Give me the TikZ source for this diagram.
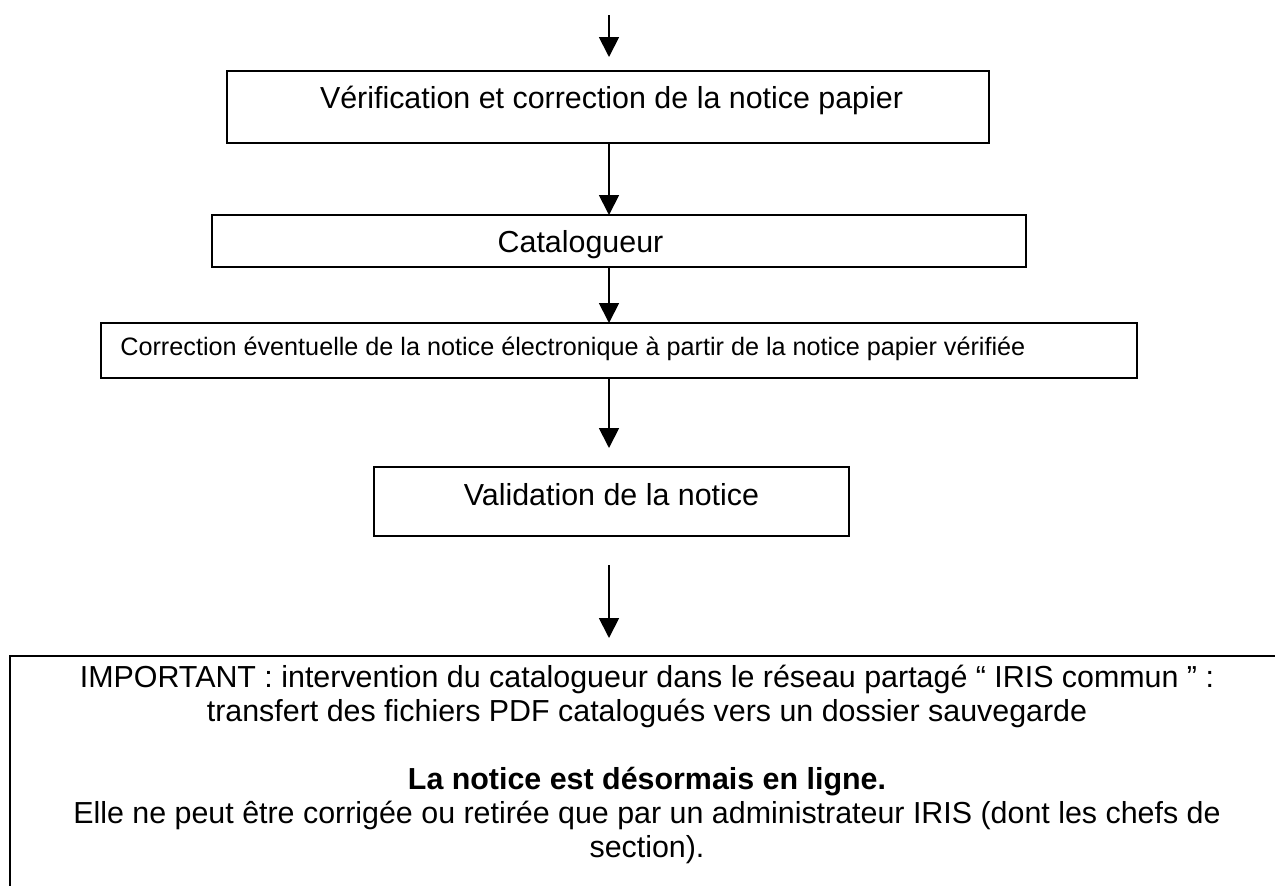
\documentclass[tikz,border=0pt]{standalone}
\usepackage{fontspec}
\setmainfont{Liberation Sans}
\usetikzlibrary{arrows.meta}
\begin{document}
\begin{tikzpicture}[x=0.5pt,y=-0.5pt,
  box/.style={draw, line width=1pt, inner sep=0pt, outer sep=0pt},
  lbl/.style={font=\fontsize{15.2pt}{17pt}\selectfont, inner sep=0pt},
  lblsmall/.style={font=\fontsize{12.6pt}{14pt}\selectfont, inner sep=0pt},
  arr/.style={line width=0.9pt, -{Triangle[width=10pt,length=10pt]}}]
\useasboundingbox (0,0) rectangle (1275,885);
\clip (0,0) rectangle (1275,885);
\fill[white] (0,0) rectangle (1275,885);
% top free arrow
\coordinate (top) at (609,15);
% boxes
\node[box, minimum width=381pt, minimum height=36pt] (b1) at (608,107) {};
\node[lbl, anchor=base] (t1) at (611.5,108) {Vérification et correction de la notice papier};
\node[box, minimum width=407pt, minimum height=26pt] (b2) at (619,241) {};
\node[lbl, anchor=base] (t2) at (580.5,252) {Catalogueur};
\node[box, minimum width=518pt, minimum height=27.5pt] (b3) at (619,350.5) {};
\node[lblsmall, anchor=base west] (t3) at (120,355) {Correction éventuelle de la notice électronique à partir de la notice papier vérifiée};
\node[box, minimum width=237.5pt, minimum height=34.5pt] (b4) at (611.5,501.5) {};
\node[lbl, anchor=base] (t4) at (611.5,505) {Validation de la notice};
\node[box, minimum width=637pt, minimum height=130pt, anchor=north west] (b5) at (10,656) {};
\node[lbl, align=center, anchor=north] (t5) at (647,665) {IMPORTANT : intervention du catalogueur dans le réseau partagé “ IRIS commun ” :\\
transfert des fichiers PDF catalogués vers un dossier sauvegarde\\[17pt]
\textbf{La notice est désormais en ligne.}\\
Elle ne peut être corrigée ou retirée que par un administrateur IRIS (dont les chefs de\\
section).};
% connectors
\draw[arr, shorten >=7pt] (top) -- (b1.north -| top);
\draw[arr] (b1.south -| top) -- (b2.north -| top);
\draw[arr] (b2.south -| top) -- (b3.north -| top);
\draw[arr, shorten >=9.5pt] (b3.south -| top) -- (b4.north -| top);
\draw[arr, shorten <=14.5pt, shorten >=9pt] (b4.south -| top) -- (b5.north -| top);
\end{tikzpicture}
\end{document}
